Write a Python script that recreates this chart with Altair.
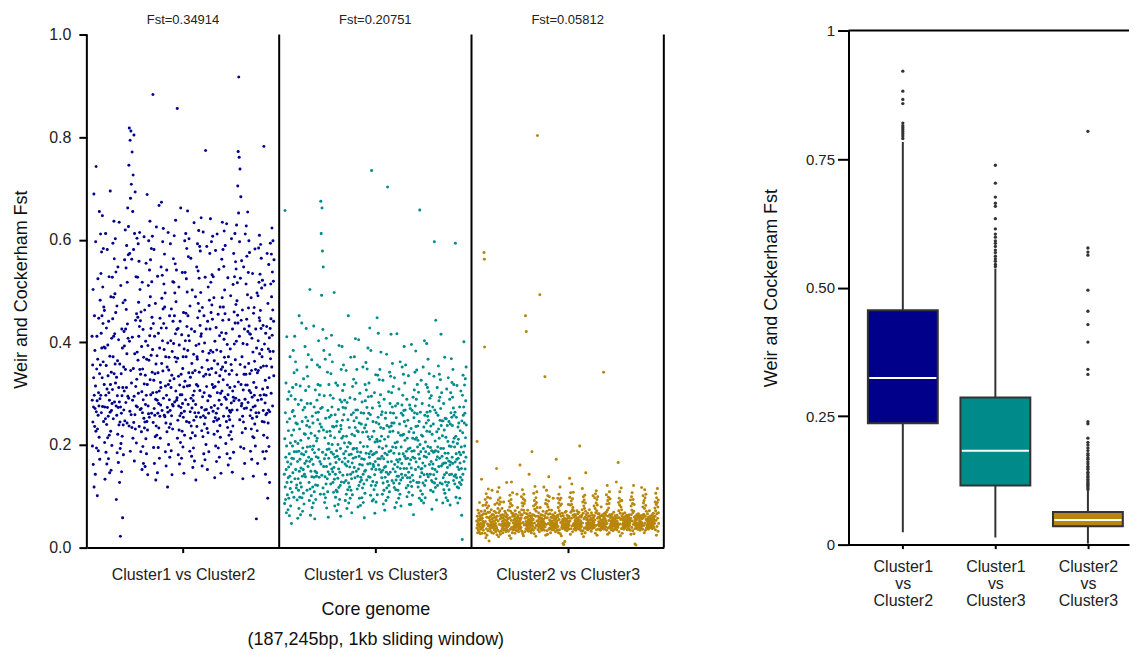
import altair as alt
import pandas as pd

groups = ["Cluster1 vs Cluster2", "Cluster1 vs Cluster3", "Cluster2 vs Cluster3"]
fst_labels = ["Fst=0.34914", "Fst=0.20751", "Fst=0.05812"]
colors = ["#00008B", "#008B8B", "#B8860B"]
box_labels = [["Cluster1", "vs", "Cluster2"], ["Cluster1", "vs", "Cluster3"], ["Cluster2", "vs", "Cluster3"]]

# Fst per window (x1000), in genome order
fst_c1_c2 = [
    412,287,198,356,245,503,162,274,331,689,118,297,452,236,384,271,143,315,596,227,
    743,265,194,348,412,286,101,231,367,524,258,189,302,447,276,215,655,339,172,290,
    482,356,611,297,534,418,263,576,389,452,331,647,275,508,437,362,583,246,469,391,
    318,462,205,274,133,389,251,612,297,186,355,428,240,163,309,581,273,214,395,335,
    256,173,441,302,528,219,287,146,373,264,695,318,227,489,151,342,267,408,199,281,
    527,308,446,593,372,251,488,412,636,339,563,284,417,495,358,602,321,458,537,276,
    94,332,258,471,185,296,364,221,547,273,166,405,312,239,634,284,127,358,245,193,
    22,274,511,203,339,262,148,426,296,217,389,58,312,477,239,181,352,268,421,305,
    393,561,247,482,619,347,426,283,545,464,312,589,378,243,517,436,662,295,408,571,
    626,291,745,237,818,402,573,266,794,188,681,345,812,259,708,321,562,234,771,410,
    287,655,213,726,349,581,244,804,295,169,612,378,259,693,231,443,314,528,276,204,
    456,328,603,381,274,527,449,365,592,301,478,412,558,236,431,614,347,503,269,442,
    338,187,459,271,226,392,304,152,517,263,348,197,425,288,164,371,252,606,319,233,
    463,245,158,336,279,402,212,554,297,183,367,246,688,318,229,142,394,276,511,261,
    598,365,472,254,541,413,636,327,489,561,298,427,375,583,262,518,449,342,607,386,
    302,883,244,437,195,326,581,271,164,412,258,339,216,476,289,132,358,237,625,303,
    219,374,287,146,529,262,341,195,418,281,233,667,305,174,389,256,447,213,322,278,
    312,547,428,673,359,486,267,531,403,596,344,465,622,291,437,514,386,258,572,469,
    255,496,187,315,372,243,159,428,297,541,226,352,273,118,399,264,614,318,201,346,
    371,234,288,452,176,325,267,592,241,403,312,189,465,257,336,142,382,279,231,518,
    441,276,563,398,517,329,608,452,284,496,371,553,417,638,305,479,362,541,287,425,
    292,856,213,369,248,427,181,334,276,508,229,395,163,317,257,441,298,205,662,273,
    338,262,174,415,298,227,536,281,349,196,372,254,458,313,145,387,266,219,598,324,
    536,403,288,612,457,372,524,246,583,431,498,315,656,384,452,279,567,413,341,602,
    244,403,316,188,471,265,332,213,564,291,237,426,178,359,272,502,224,341,156,297,
    286,194,377,248,633,305,169,421,263,345,218,489,279,132,394,255,318,547,236,372,
    367,592,448,315,539,476,263,618,397,525,342,461,587,306,433,578,254,497,412,643,
    417,273,228,351,159,468,294,382,216,615,257,334,183,452,302,241,399,268,171,527,
    253,774,338,201,426,269,314,587,232,365,152,441,286,224,508,347,262,187,379,296,
    482,337,573,426,295,641,384,517,458,273,596,349,473,532,318,445,607,381,266,528,
    312,246,487,221,364,277,136,402,314,253,579,198,341,429,262,168,385,248,611,302,
    227,358,271,455,194,323,251,542,287,176,413,335,238,469,215,301,382,145,347,279,
    419,562,305,487,634,352,443,581,327,469,256,548,406,617,371,502,293,456,589,344,
    361,203,418,289,246,631,272,183,396,317,234,526,298,161,372,256,444,219,338,267,
    249,312,174,387,264,491,226,357,282,602,211,345,268,147,426,305,237,513,293,186,
    573,286,459,397,528,314,612,438,366,557,291,474,543,402,629,337,481,268,516,453,
    705,438,772,323,652,917,287,761,412,596,249,738,357,525,196,684,318,443,276,559,
    281,372,224,463,256,134,398,307,245,547,193,338,271,426,164,352,289,611,232,317,
    338,514,627,272,445,568,396,317,493,654,421,283,536,467,359,598,432,306,575,417,
    339,257,416,188,302,268,487,231,345,172,408,293,252,534,216,381,274,139,457,322,
    214,468,297,363,241,582,276,198,347,426,263,312,56,389,255,496,228,341,164,287,
    491,403,345,584,263,517,448,609,378,442,533,297,462,591,351,427,564,289,506,386,
    372,246,521,309,187,433,267,354,219,782,298,245,397,173,512,282,326,143,418,259,
    297,188,354,431,262,573,214,312,96,476,243,387,268,552,197,331,409,127,265,382,
    427,593,368,514,446,301,572,489,352,623,414,537,276,463,598,382,519,441,335,561,
]
fst_c1_c3 = [
    143,86,212,657,118,263,94,176,321,152,68,198,411,127,245,103,167,289,74,136,
    228,157,96,304,183,62,251,139,372,115,204,81,163,296,128,47,219,174,108,265,
    198,312,146,267,384,173,229,98,341,187,256,412,134,289,207,362,152,243,318,116,
    187,122,346,93,241,168,57,203,134,279,112,188,76,452,149,231,98,172,315,126,
    64,209,155,287,118,183,438,97,246,139,71,194,268,152,106,329,181,85,222,143,
    273,164,392,221,138,306,254,187,427,169,238,352,112,281,196,334,247,158,376,213,
    176,314,127,92,235,168,503,114,197,63,281,149,223,101,172,366,138,78,256,191,
    118,243,162,87,198,432,137,274,109,185,56,218,149,307,122,94,263,177,139,208,
    146,287,213,356,121,249,318,175,264,403,191,227,137,298,352,168,241,316,104,271,
    675,163,612,235,492,141,662,273,578,186,425,116,547,229,158,384,104,296,173,88,
    214,138,367,97,252,181,124,408,158,77,226,191,134,342,109,267,148,59,203,174,
    318,192,254,143,376,227,163,297,218,124,339,258,186,414,153,274,201,362,236,148,
    127,291,182,108,235,156,497,133,214,81,176,259,143,98,321,166,112,237,189,72,
    246,109,178,316,135,201,84,269,153,117,394,172,226,94,147,288,121,193,61,238,
    231,347,128,284,213,392,167,248,306,141,273,217,356,183,259,127,318,204,287,174,
    163,92,272,188,131,345,104,217,159,76,283,142,196,113,249,168,452,126,87,205,
    181,234,118,157,292,96,203,143,371,112,182,259,134,68,221,165,103,314,147,192,
    174,263,328,193,247,156,372,218,289,136,234,407,176,268,321,149,253,193,347,228,
    114,187,268,139,79,226,153,405,121,178,243,96,162,301,128,205,82,186,137,263,
    241,132,173,97,284,161,116,225,352,143,88,197,262,124,172,58,233,149,106,318,
    286,151,239,361,184,307,226,132,273,348,197,251,163,389,216,294,138,262,321,183,
    176,211,428,137,164,259,102,384,188,121,295,735,153,216,91,272,181,129,246,162,
    94,158,227,113,183,302,142,67,206,168,121,337,152,89,244,186,127,211,448,103,
    207,336,173,254,418,161,283,241,196,327,152,276,347,208,173,298,234,381,147,259,
    217,136,178,265,104,193,151,326,126,85,232,173,112,289,156,211,73,184,137,252,
    158,263,92,198,147,377,116,238,181,129,703,167,98,216,143,304,121,187,235,109,
    342,226,281,147,263,334,189,416,237,168,302,243,131,274,359,196,227,153,314,262,
    126,184,243,117,331,162,78,204,148,276,113,195,132,253,88,171,417,139,206,157,
    281,112,167,224,139,96,309,183,125,241,172,104,362,154,219,132,81,196,262,143,
    164,278,352,219,136,297,258,183,338,221,267,154,392,246,178,321,209,268,141,356,
    173,237,116,188,154,289,99,213,136,174,248,121,192,335,147,108,226,163,84,278,
    136,194,271,128,171,84,232,155,396,119,188,267,141,102,213,176,293,131,64,224,
    253,189,307,263,174,342,211,276,152,383,236,167,289,214,346,127,261,318,196,237,
    209,118,157,303,182,127,246,96,173,658,201,138,264,111,187,153,326,92,219,146,
    154,281,104,217,165,126,352,193,87,235,142,178,403,121,258,159,97,206,187,131,
    318,243,176,398,227,264,143,312,256,197,367,138,248,304,183,277,339,162,226,291,
    266,143,195,112,237,168,296,131,189,75,221,154,128,274,163,109,241,186,142,334,
    187,596,126,268,152,208,117,189,443,134,263,171,93,226,148,312,177,121,196,258,
    187,354,231,158,286,213,338,174,293,248,126,327,271,193,416,238,159,302,247,178,
    124,218,163,87,247,136,193,281,113,165,229,142,371,106,184,252,128,165,215,97,
    251,146,309,174,121,238,156,92,207,184,331,127,169,246,113,198,142,289,161,83,
    241,167,302,263,197,368,143,254,322,176,238,293,164,347,206,272,131,318,258,213,
    139,196,124,264,167,593,142,217,98,183,254,136,172,316,118,203,157,87,235,174,
    211,116,243,152,186,127,274,96,165,228,137,181,305,123,196,154,63,247,132,16,
    297,224,143,336,258,186,274,401,168,243,317,198,262,153,329,214,286,176,352,239,
]
fst_c2_c3 = [
    52,38,207,61,44,29,73,48,35,56,42,67,31,53,88,45,39,62,27,58,
    47,36,71,54,133,41,63,28,57,46,39,82,51,34,66,43,575,48,562,391,
    72,28,94,51,83,19,66,105,37,88,59,24,77,46,98,33,69,114,42,81,
    58,13,44,69,37,53,41,96,32,61,49,38,74,45,56,29,112,43,65,51,
    39,57,46,28,63,44,35,71,52,41,84,36,59,47,31,68,42,55,154,38,
    25,87,61,109,34,76,52,93,21,68,117,45,84,31,72,97,56,26,89,63,
    61,45,33,58,42,76,37,51,64,29,46,57,40,89,53,35,62,48,43,71,
    36,54,47,67,31,43,59,38,127,52,45,63,34,49,56,41,73,32,57,44,
    91,47,23,79,102,58,36,86,71,18,94,53,128,39,67,82,29,107,61,35,
    48,66,39,53,42,35,61,47,56,28,72,44,38,51,65,41,33,58,46,104,
    53,41,78,35,49,62,44,31,57,46,38,69,52,43,161,36,55,47,64,39,
    58,99,74,32,87,64,113,27,81,49,95,23,73,104,44,86,68,31,92,57,
    45,452,58,37,51,421,43,66,34,48,59,41,73,38,54,45,32,62,49,143,
    37,56,44,67,39,52,46,33,61,48,29,58,42,187,53,36,64,47,41,55,
    34,81,106,63,27,92,48,75,119,38,84,61,22,97,71,43,88,109,52,78,
    803,43,61,35,52,47,68,39,56,44,31,59,493,42,78,50,37,64,46,53,
    41,57,34,48,63,39,52,45,71,36,55,43,118,49,34,62,46,333,40,58,
    86,24,67,93,45,112,71,33,84,58,26,101,79,47,65,91,138,36,74,99,
    54,38,66,44,51,29,47,59,36,43,73,52,41,58,35,64,48,39,96,45,
    47,62,35,53,42,57,39,68,45,31,56,43,49,172,38,61,46,52,34,59,
    63,96,41,78,29,87,104,55,72,35,93,66,118,27,82,49,96,61,23,85,
    39,51,44,67,37,55,8,48,62,41,6,53,38,57,46,12,43,69,35,51,
    56,42,71,38,54,47,33,63,45,52,39,58,41,84,48,36,61,44,57,135,
    98,52,83,26,107,69,37,91,57,84,124,42,73,95,31,78,63,108,46,72,
    43,59,36,48,65,41,53,38,46,62,34,51,44,57,39,72,47,53,42,66,
    51,37,58,45,42,69,36,54,47,198,43,61,38,52,45,33,59,48,41,63,
    27,74,115,48,89,33,67,99,21,81,56,93,38,76,102,59,29,87,71,146,
    38,64,47,55,41,36,58,43,67,49,35,53,46,61,39,54,42,74,37,48,
    62,44,53,39,57,46,32,68,41,55,48,37,63,45,52,101,39,58,44,49,
    81,39,62,97,54,76,28,105,68,43,87,111,35,72,94,24,83,57,99,66,
    45,59,37,51,43,66,48,35,57,42,61,47,34,54,46,79,38,53,49,62,
    53,41,64,47,38,55,44,342,36,59,48,42,67,51,37,56,45,63,40,52,
    69,103,34,85,47,121,73,26,92,61,38,98,77,53,86,29,109,64,41,95,
    39,58,46,52,35,61,43,49,65,37,54,47,41,58,33,52,46,69,42,57,
    48,36,55,43,62,49,38,57,44,51,128,46,35,63,52,41,58,47,39,166,
    44,88,72,31,96,58,83,109,46,67,23,91,55,79,116,37,74,92,62,28,
    57,45,39,66,48,53,41,36,59,47,52,43,68,38,55,44,61,49,42,54,
    42,63,51,47,35,58,44,52,39,61,46,55,37,49,64,43,57,48,34,53,
    93,57,26,81,64,99,39,73,107,52,86,33,68,94,45,121,71,27,84,59,
    49,37,7,55,44,61,42,5,53,38,47,64,41,56,45,36,59,48,43,66,
    61,48,42,57,39,53,46,34,62,45,51,38,58,44,49,117,41,56,47,63,
    36,79,101,58,87,43,65,92,29,76,113,48,97,61,34,82,104,55,71,38,
    44,56,38,51,66,42,55,47,36,59,43,52,48,72,39,57,45,61,41,54,
    52,46,61,38,55,43,49,64,37,58,45,51,42,67,48,56,39,53,61,47,
    77,61,89,35,72,106,53,84,24,97,66,41,88,115,57,79,32,93,68,47,
]

# Box-plot statistics
box_q1 = [0.236, 0.115, 0.0356]
box_med = [0.324, 0.1825, 0.048]
box_q3 = [0.456, 0.286, 0.0635]
box_lo = [0.024, 0.0136, 0.002]
box_hi = [0.783, 0.537, 0.105]
outliers_c1_c2 = [0.921, 0.882, 0.866, 0.858, 0.820, 0.815, 0.811, 0.807, 0.803, 0.799, 0.795, 0.790]
outliers_c1_c3 = [0.738, 0.703, 0.676, 0.664, 0.658, 0.634, 0.614, 0.604, 0.598, 0.591, 0.586,
                  0.580, 0.573, 0.568, 0.561, 0.556, 0.551, 0.545, 0.541]
outliers_c2_c3 = [0.804, 0.577, 0.569, 0.563, 0.495, 0.454, 0.428, 0.394, 0.341, 0.331, 0.239,
                  0.235, 0.207, 0.199, 0.194, 0.188, 0.183, 0.177, 0.174, 0.169, 0.166, 0.161,
                  0.157, 0.152, 0.149, 0.146, 0.141, 0.138, 0.134, 0.131, 0.127, 0.124, 0.121,
                  0.118, 0.116, 0.113, 0.110, 0.107]

FONT = "Liberation Sans"
PAD = 0.027
HALF = 0.3775
LEFT_H = 518
LEFT_TOP = 1 + 4 / 514  # plot area reaches 4px above the 1.0 tick

# ---------- left panel ----------
rows = []
for g, vals in enumerate([fst_c1_c2, fst_c1_c3, fst_c2_c3]):
    n = len(vals)
    for i, v in enumerate(vals):
        rows.append({"group": groups[g], "pos": g + PAD + (1 - 2 * PAD) * i / (n - 1), "fst": v / 1000})
scatter_df = pd.DataFrame(rows)

x_label_expr = (f"datum.value < 1 ? '{groups[0]}' : (datum.value < 2 ? '{groups[1]}' : '{groups[2]}')")
x_left = alt.X(
    "pos:Q",
    scale=alt.Scale(domain=[0, 3], nice=False, zero=False),
    axis=alt.Axis(
        values=[0.5, 1.5, 2.5], labelExpr=x_label_expr, grid=False,
        title=["Core genome", "(187,245bp, 1kb sliding window)"],
        titleLineHeight=30, titlePadding=18, labelPadding=14, tickSize=5,
        labelFontSize=16, titleFontSize=18,
    ),
)
y_left = alt.Y(
    "fst:Q",
    scale=alt.Scale(domain=[0, LEFT_TOP], nice=False),
    axis=alt.Axis(
        values=[0, 0.2, 0.4, 0.6, 0.8, 1.0], format=".1f", grid=False, domain=False,
        title="Weir and Cockerham Fst", tickSize=8, labelPadding=8, titlePadding=18,
        labelFontSize=16, titleFontSize=18,
    ),
)

points = alt.Chart(scatter_df).mark_circle(size=9, opacity=1).encode(
    x=x_left, y=y_left,
    color=alt.Color("group:N", scale=alt.Scale(domain=groups, range=colors), legend=None),
)
sep_df = pd.DataFrame({"pos": [0, 1, 2, 3], "fst": [0, 0, 0, 0], "fst2": [1, 1, 1, 1]})
seps = alt.Chart(sep_df).mark_rule(color="black", strokeWidth=2).encode(x=x_left, y=y_left, y2="fst2:Q")
fst_df = pd.DataFrame({"pos": [0.5, 1.5, 2.5], "fst": [1, 1, 1], "label": fst_labels})
fst_text = alt.Chart(fst_df).mark_text(dy=-15, fontSize=13, baseline="middle", color="#222").encode(
    x=x_left, y=y_left, text="label:N"
)
left = alt.layer(points, seps, fst_text).properties(width=578, height=LEFT_H)

# ---------- right panel ----------
box_df = pd.DataFrame({
    "group": groups,
    "pos": [1, 2, 3],
    "q1": box_q1, "med": box_med, "q3": box_q3, "lo": box_lo, "hi": box_hi,
})
box_df["xl"] = box_df["pos"] - HALF
box_df["xr"] = box_df["pos"] + HALF
box_df["ml"] = box_df["pos"] - HALF + 0.015
box_df["mr"] = box_df["pos"] + HALF - 0.015

out_rows = []
for g, outs in enumerate([outliers_c1_c2, outliers_c1_c3, outliers_c2_c3]):
    for v in outs:
        out_rows.append({"pos": g + 1, "fst": v})
out_df = pd.DataFrame(out_rows)

rx_scale = alt.Scale(domain=[0.413, 3.444], nice=False, zero=False)
ry_scale = alt.Scale(domain=[0, 1], nice=False)
rx_label_expr = (f"datum.value == 1 ? {box_labels[0]} : (datum.value == 2 ? {box_labels[1]} : {box_labels[2]})")
rx_axis = alt.Axis(values=[1, 2, 3], labelExpr=rx_label_expr, grid=False, title=None,
                   tickSize=4, labelPadding=10, labelFontSize=16, labelLineHeight=17)
ry_axis = alt.Axis(values=[0, 0.25, 0.5, 0.75, 1],
                   labelExpr="datum.value == 0 ? '0' : (datum.value == 1 ? '1' : format(datum.value, '.2f'))",
                   grid=False, title="Weir and Cockerham Fst", tickSize=11, labelPadding=3,
                   titlePadding=25, labelFontSize=15, titleFontSize=18)

whisk = alt.Chart(box_df).mark_rule(color="#333", strokeWidth=2).encode(
    x=alt.X("pos:Q", scale=rx_scale, axis=rx_axis),
    y=alt.Y("lo:Q", scale=ry_scale, axis=ry_axis),
    y2="hi:Q",
)
boxes = alt.Chart(box_df).mark_bar(stroke="#333", strokeWidth=2).encode(
    x=alt.X("xl:Q", scale=rx_scale, axis=rx_axis),
    x2="xr:Q",
    y=alt.Y("q1:Q", scale=ry_scale, axis=ry_axis),
    y2="q3:Q",
    color=alt.Color("group:N", scale=alt.Scale(domain=groups, range=colors), legend=None),
)
meds = alt.Chart(box_df).mark_rule(color="white", strokeWidth=2).encode(
    x=alt.X("ml:Q", scale=rx_scale, axis=rx_axis),
    x2="mr:Q",
    y=alt.Y("med:Q", scale=ry_scale, axis=ry_axis),
)
outs = alt.Chart(out_df).mark_circle(size=11, color="#333", opacity=1).encode(
    x=alt.X("pos:Q", scale=rx_scale, axis=rx_axis),
    y=alt.Y("fst:Q", scale=ry_scale, axis=ry_axis),
)
top_df = pd.DataFrame({"fst": [1]})
top_line = alt.Chart(top_df).mark_rule(color="black", strokeWidth=2).encode(
    y=alt.Y("fst:Q", scale=ry_scale, axis=ry_axis)
)
right = alt.layer(whisk, boxes, meds, outs, top_line).properties(width=281, height=515)

chart = alt.hconcat(left, right, spacing=97).properties(
    padding={"left": 4, "top": 4, "right": 0, "bottom": 0}
).configure(font=FONT).configure_view(
    strokeWidth=0
).configure_axis(
    domainColor="black", domainWidth=2, tickColor="black", tickWidth=2,
    labelColor="#222", titleColor="#111", titleFontWeight="normal",
    labelFont=FONT, titleFont=FONT,
)

chart.save("out.html", embed_options={"renderer": "svg", "actions": False})
